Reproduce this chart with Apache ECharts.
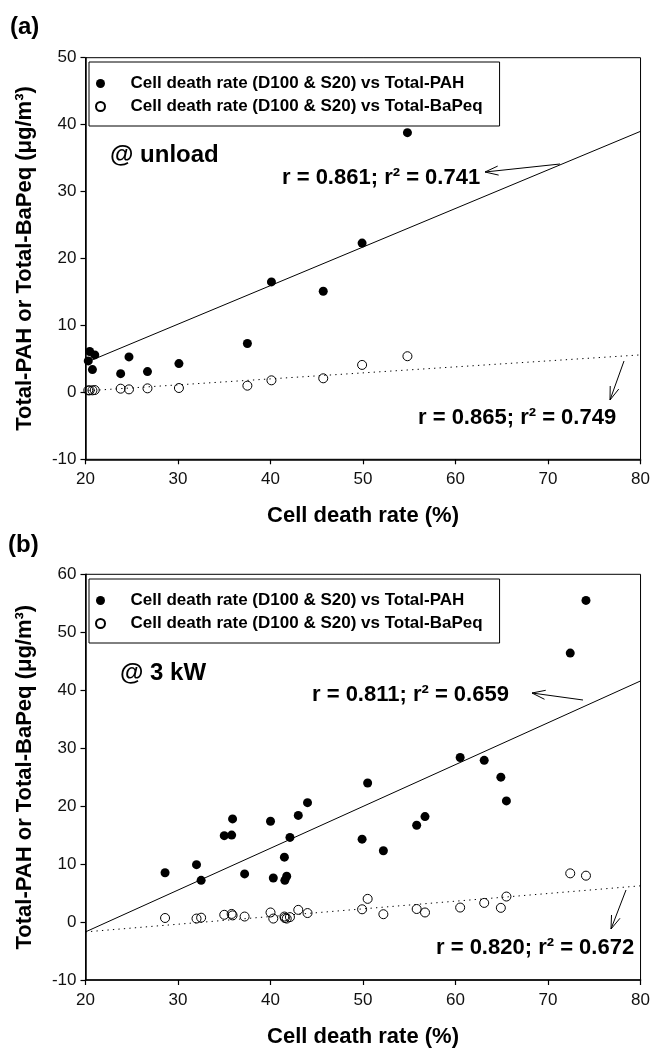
<!DOCTYPE html>
<html>
<head>
<meta charset="utf-8">
<script src="https://cdn.jsdelivr.net/npm/echarts@6/dist/echarts.min.js"></script>
<style>
  html, body { margin: 0; padding: 0; background: #fff; }
  #main { width: 653px; height: 1051px; }
</style>
</head>
<body>
<div id="main"></div>
<script>
// panel (a) @ unload
const xA = [20.3, 20.45, 20.75, 21.0, 23.8, 24.7, 26.7, 30.1, 37.5, 40.1, 45.7, 49.9, 54.8]
const pahA = [4.7, 6.1, 3.4, 5.6, 2.8, 5.3, 3.1, 4.3, 7.3, 16.5, 15.1, 22.3, 38.8]
const bapA = [0.3, 0.3, 0.3, 0.35, 0.55, 0.45, 0.6, 0.65, 1.0, 1.8, 2.1, 4.1, 5.4]
const fitPahA = [[20.3, 4.6], [80, 39.0]]
const fitBapA = [[20.3, 0.25], [80, 5.6]]

// panel (b) @ 3 kW
const xB = [28.6, 32.0, 32.5, 35.0, 35.8, 35.9, 37.2, 40.0, 40.3, 41.5, 41.55, 41.75, 42.1,
  43.0, 44.0, 49.9, 50.5, 52.2, 55.8, 56.7, 60.5, 63.1, 64.9, 65.5, 72.4, 74.1]
const pahB = [8.5, 9.9, 7.2, 14.9, 15.0, 17.8, 8.3, 17.4, 7.6, 11.2, 7.2, 7.9, 14.6,
  18.4, 20.6, 14.3, 24.0, 12.3, 16.7, 18.2, 28.4, 27.9, 25.0, 20.9, 46.4, 55.5]
const bapB = [0.7, 0.6, 0.75, 1.25, 1.4, 1.15, 0.95, 1.65, 0.6, 0.95, 0.7, 0.6, 0.85,
  2.1, 1.55, 2.2, 4.0, 1.35, 2.25, 1.65, 2.5, 3.3, 2.45, 4.4, 8.4, 8.0]
const fitPahB = [[20, -1.7], [80, 41.6]]
const fitBapB = [[20, -1.7], [80, 6.25]]

const nameX = 'Cell death rate (%)'
const nameY = 'Total-PAH or Total-BaPeq (μg/m³)'
const namePah = 'Cell death rate (D100 & S20) vs Total-PAH'
const nameBap = 'Cell death rate (D100 & S20) vs Total-BaPeq'

const FONT = '"Liberation Sans", Arial, sans-serif'
const zip = (xs, ys) => xs.map((x, i) => [x, ys[i]])

const chart = echarts.init(document.getElementById('main'))

function xAxisOf(gridIndex) {
  return {
    gridIndex, type: 'value', min: 20, max: 80, interval: 10,
    name: nameX, nameLocation: 'middle', nameGap: 46,
    nameTextStyle: { fontFamily: FONT, fontSize: 22, fontWeight: 'bold', color: '#000' },
    axisLine: { onZero: false, lineStyle: { color: '#000', width: 1.5 } },
    axisTick: { inside: false, length: 5, lineStyle: { color: '#000', width: 1.2 } },
    axisLabel: { fontFamily: FONT, fontSize: 17, color: '#111', margin: 12 },
    splitLine: { show: false }
  }
}
function yAxisOf(gridIndex, max) {
  return {
    gridIndex, type: 'value', min: -10, max, interval: 10,
    name: nameY, nameLocation: 'middle', nameGap: 50,
    nameTextStyle: { fontFamily: FONT, fontSize: 22, fontWeight: 'bold', color: '#000' },
    axisLine: { onZero: false, lineStyle: { color: '#000', width: 1.5 } },
    axisTick: { inside: false, length: 5, lineStyle: { color: '#000', width: 1.2 } },
    axisLabel: { fontFamily: FONT, fontSize: 17, color: '#111', margin: 9 },
    splitLine: { show: false }
  }
}
function legendOf(top) {
  return {
    data: [namePah, nameBap], orient: 'vertical', left: 89, top,
    itemWidth: 50, itemHeight: 9, itemGap: 6, padding: [13, 17, 11, 6],
    borderColor: '#000', borderWidth: 1, selectedMode: false,
    textStyle: { fontFamily: FONT, fontSize: 17, fontWeight: 'bold', color: '#000', lineHeight: 17 }
  }
}
function scatterOf(name, data, idx, open) {
  return {
    name, type: 'scatter', xAxisIndex: idx, yAxisIndex: idx, data,
    symbol: 'circle', symbolSize: 9, z: 3,
    itemStyle: open
      ? { color: 'rgba(255,255,255,0)', borderColor: '#000', borderWidth: 1, opacity: 1 }
      : { color: '#000', opacity: 1 }
  }
}
function fitOf(name, data, idx, dotted) {
  return {
    name, type: 'line', xAxisIndex: idx, yAxisIndex: idx, data,
    symbol: 'none', z: 2, silent: true,
    lineStyle: { color: '#000', width: 1, type: dotted ? [1.3, 4.2] : 'solid' }
  }
}
function txt(text, x, y, size) {
  return {
    type: 'text', x, y,
    style: { text, font: 'bold ' + size + 'px ' + FONT, fill: '#000', verticalAlign: 'middle', textVerticalAlign: 'middle' }
  }
}
function arrow(x1, y1, x2, y2) {
  const a = Math.atan2(y1 - y2, x1 - x2)
  const L = 14, s = 0.33
  const p1 = [x2 + L * Math.cos(a + s), y2 + L * Math.sin(a + s)]
  const p2 = [x2 + L * Math.cos(a - s), y2 + L * Math.sin(a - s)]
  const st = { stroke: '#000', lineWidth: 1, fill: null }
  return {
    type: 'group', children: [
      { type: 'line', shape: { x1, y1, x2, y2 }, style: st },
      { type: 'polyline', shape: { points: [p1, [x2, y2], p2] }, style: st }
    ]
  }
}

chart.setOption({
  animation: false,
  backgroundColor: '#fff',
  grid: [
    { left: 85.5, width: 559, top: 57.7, height: 401.6, show: true, borderColor: '#000', borderWidth: 1 },
    { left: 85.5, width: 559, top: 574.3, height: 405.7, show: true, borderColor: '#000', borderWidth: 1 }
  ],
  xAxis: [xAxisOf(0), xAxisOf(1)],
  yAxis: [yAxisOf(0, 50), yAxisOf(1, 60)],
  legend: [legendOf(62), legendOf(579)],
  series: [
    fitOf('fit PAH a', fitPahA, 0, false),
    fitOf('fit BaPeq a', fitBapA, 0, true),
    scatterOf(namePah, zip(xA, pahA), 0, false),
    scatterOf(nameBap, zip(xA, bapA), 0, true),
    fitOf('fit PAH b', fitPahB, 1, false),
    fitOf('fit BaPeq b', fitBapB, 1, true),
    scatterOf(namePah, zip(xB, pahB), 1, false),
    scatterOf(nameBap, zip(xB, bapB), 1, true)
  ],
  graphic: [
    txt('(a)', 10, 27, 24),
    txt('(b)', 8, 545, 24),
    txt('@ unload', 110, 155, 24),
    txt('r = 0.861; r² = 0.741', 282, 178, 22),
    txt('r = 0.865; r² = 0.749', 418, 418, 22),
    txt('@ 3 kW', 120, 673, 24),
    txt('r = 0.811; r² = 0.659', 312, 695, 22),
    txt('r = 0.820; r² = 0.672', 436, 948, 22),
    arrow(560, 164, 485, 172),
    arrow(624, 361, 610, 400),
    arrow(583, 700, 532, 693),
    arrow(626, 890, 611, 929)
  ]
})
</script>
</body>
</html>
